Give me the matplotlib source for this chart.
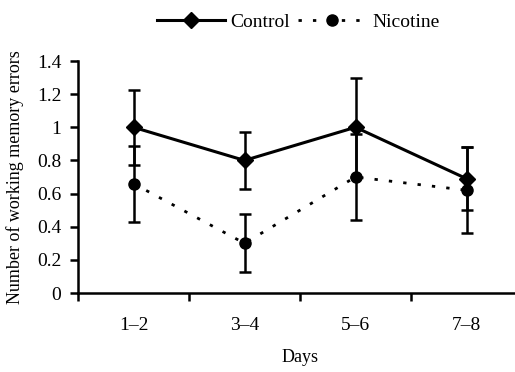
import matplotlib
matplotlib.use("Agg")
import numpy as np
import matplotlib.pyplot as plt
from matplotlib.lines import Line2D
from matplotlib.ticker import FixedLocator, NullFormatter, FixedFormatter

plt.rcParams["font.family"] = ["Liberation Serif", "DejaVu Serif"]

DAYS = ["1\u20132", "3\u20134", "5\u20136", "7\u20138"]
CONTROL = [1.00, 0.80, 1.00, 0.69]
CONTROL_ERR = [0.225, 0.17, 0.30, 0.19]
NICOTINE = [0.66, 0.30, 0.70, 0.62]
NICOTINE_ERR = [0.23, 0.175, 0.26, 0.26]

x = np.arange(1, len(DAYS) + 1)

fig = plt.figure(figsize=(5.15, 3.72), dpi=100)
ax = fig.add_axes([78 / 515, 79 / 372, 444 / 515, 232 / 372])

ctrl_style = dict(color="black", lw=2.2, marker="D", markersize=8)
nic_style = dict(color="black", lw=2, linestyle=(0, (1.2, 4)), marker="o", markersize=8)

ax.errorbar(x, CONTROL, yerr=CONTROL_ERR, ecolor="black", elinewidth=1.8,
            capsize=4.5, capthick=1.8, zorder=3, **ctrl_style)
ax.errorbar(x, NICOTINE, yerr=NICOTINE_ERR, ecolor="black", elinewidth=1.8,
            capsize=4.5, capthick=1.8, zorder=3, **nic_style)

ax.set_xlim(0.5, 4.5)
ax.set_ylim(0, 1.4)
ax.set_yticks(np.arange(0, 1.41, 0.2))
ax.set_yticklabels(["0", "0.2", "0.4", "0.6", "0.8", "1", "1.2", "1.4"])

ax.xaxis.set_major_locator(FixedLocator([0.5, 1.5, 2.5, 3.5, 4.5]))
ax.xaxis.set_major_formatter(NullFormatter())
ax.xaxis.set_minor_locator(FixedLocator(list(x)))
ax.xaxis.set_minor_formatter(FixedFormatter(DAYS))
ax.tick_params(axis="x", which="minor", length=0, pad=17, labelsize=14)
ax.tick_params(axis="x", which="major", length=6, width=1.8, direction="out")
ax.tick_params(axis="y", length=6, width=1.8, direction="out", labelsize=14, pad=6)

for side in ("top", "right"):
    ax.spines[side].set_visible(False)
for side in ("left", "bottom"):
    ax.spines[side].set_linewidth(1.8)

ax.set_xlabel("Days", fontsize=13, labelpad=11)
ax.set_ylabel("Number of working memory errors", fontsize=13, labelpad=9)

handles = [Line2D([], [], **ctrl_style), Line2D([], [], **nic_style)]
fig.legend(handles, ["Control", "Nicotine"], loc="center",
           bbox_to_anchor=(298 / 515, 1 - 22 / 372),
           ncol=2, frameon=False, fontsize=14, handlelength=3.5,
           handletextpad=0.3, columnspacing=0.4)

fig.savefig("out.png", dpi=100)
